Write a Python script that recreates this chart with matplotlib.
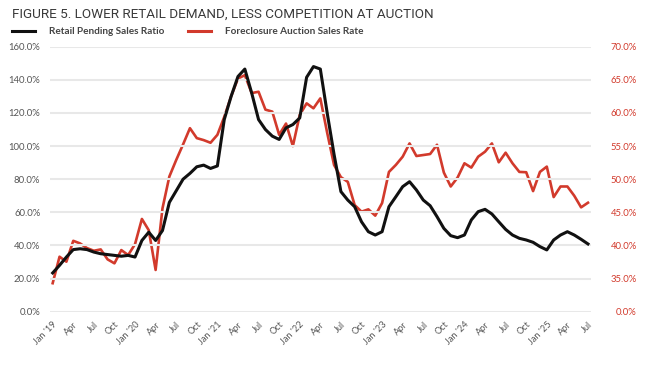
import numpy as np
import matplotlib
matplotlib.use("Agg")
import matplotlib.pyplot as plt
from matplotlib.lines import Line2D

# monthly, Jan 2019 .. Jul 2025
months = np.arange(79)

retail_pending_ratio = [
    23.4, 28, 33, 37.5, 38, 37.5, 36, 35, 34.5, 34, 33.5, 34,
    33, 43, 48, 43, 49, 66, 73, 80, 83.5, 87.5, 88.5, 86.5,
    88, 116, 130, 142, 146.5, 132, 116, 110, 106, 104, 111, 113,
    117, 141.5, 148, 146.5, 120, 95, 72.5, 67.4, 63.4, 54.3, 48.3, 46.3,
    48.3, 63.4, 69.4, 75.5, 78.5, 73.5, 67.4, 64, 57.4, 50.3, 45.9, 44.7,
    46.3, 55.4, 60.4, 61.8, 59, 54.3, 49.7, 46.3, 44.3, 43.3, 41.9, 39.3,
    37.3, 43.3, 46.3, 48.3, 46.3, 43.7, 40.9,
]

foreclosure_auction_rate = [
    34.3, 38.3, 37.55, 40.7, 40.3, 39.6, 39.2, 39.4, 37.9, 37.3, 39.3, 38.55,
    40.2, 44.0, 42.3, 36.3, 45.6, 50.4, 52.9, 55.25, 57.7, 56.2, 55.9, 55.5,
    56.7, 59.4, 62.5, 65.2, 65.7, 63.0, 63.2, 60.5, 60.2, 56.7, 58.4, 55.0,
    59.7, 61.45, 60.7, 62.2, 57.0, 52.15, 50.3, 49.6, 46.1, 45.1, 45.45, 44.5,
    46.4, 51.1, 52.15, 53.4, 55.4, 53.5, 53.65, 53.8, 55.2, 51.0, 48.9, 50.25,
    52.4, 51.75, 53.4, 54.15, 55.4, 52.55, 54.0, 52.4, 51.1, 51.05, 48.2, 51.1,
    51.9, 47.3, 48.9, 48.9, 47.5, 45.75, 46.45,
]

month_names = ["Jan", "Apr", "Jul", "Oct"]
tick_labels = []
for yr in range(19, 26):
    for m in month_names:
        tick_labels.append(f"Jan '{yr}" if m == "Jan" else m)
tick_labels = tick_labels[:27]

left_ticks = [0, 20, 40, 60, 80, 100, 120, 140, 160]
# right axis is broken: bottom gridline is labelled 0.0%
right_ticks = [30, 35, 40, 45, 50, 55, 60, 65, 70]
right_labels = ["0.0%", "35.0%", "40.0%", "45.0%", "50.0%", "55.0%", "60.0%", "65.0%", "70.0%"]

BLACK = "#111111"
RED = "#d23a2c"
TEXT = "#555555"
GRID = "#e8e8e8"
FONT = ["Lato", "DejaVu Sans"]

fig = plt.figure(figsize=(6.46, 3.85), dpi=100)
ax = fig.add_axes([50 / 646, 73.3 / 385, 541 / 646, 265 / 385])
ax2 = ax.twinx()

ax.set_ylim(0, 160)
ax.set_xlim(-0.39, 78.44)
ax2.set_ylim(30, 70)

ax.set_yticks(left_ticks)
ax.set_yticklabels([f"{v:.1f}%" for v in left_ticks], fontsize=6.8, color=TEXT, family=FONT)
ax.yaxis.grid(True, color=GRID, linewidth=1.5)
ax.set_axisbelow(True)

ax.set_xticks(months[::3])
ax.set_xticklabels(tick_labels, rotation=45, ha="right", rotation_mode="anchor",
                   fontsize=6.6, color=TEXT, family=FONT)
ax.tick_params(axis="both", length=0)
ax.tick_params(axis="y", pad=7)
ax.tick_params(axis="x", pad=6)

ax2.set_yticks(right_ticks)
ax2.set_yticklabels(right_labels, fontsize=6.8, color=RED, family=FONT, ha="right")
ax2.tick_params(axis="y", length=0, pad=33)

for a in (ax, ax2):
    for s in a.spines.values():
        s.set_visible(False)

ax.plot(months, retail_pending_ratio, color=BLACK, linewidth=2.2, zorder=3)
ax2.plot(months, foreclosure_auction_rate, color=RED, linewidth=1.9, zorder=2)
ax.set_zorder(ax2.get_zorder() + 1)
ax.patch.set_visible(False)

fig.text(12 / 646, 1 - 14 / 385, "FIGURE 5. LOWER RETAIL DEMAND, LESS COMPETITION AT AUCTION",
         fontsize=9.7, color="#3a3a3a", va="center", ha="left",
         family=["Liberation Sans Narrow", "Roboto", "DejaVu Sans"])

handles = [Line2D([], [], color=BLACK, linewidth=2.2),
           Line2D([], [], color=RED, linewidth=2.2)]
fig.legend(handles, ["Retail Pending Sales Ratio", "Foreclosure Auction Sales Rate"],
           loc="center left", bbox_to_anchor=(8 / 646, 1 - 32 / 385), ncol=2, frameon=False,
           prop={"family": FONT, "size": 7.2, "weight": "bold"}, labelcolor="#444444",
           handlelength=2.3, handletextpad=1.4, columnspacing=2.4, borderaxespad=0)

fig.savefig("out.png", dpi=100)
